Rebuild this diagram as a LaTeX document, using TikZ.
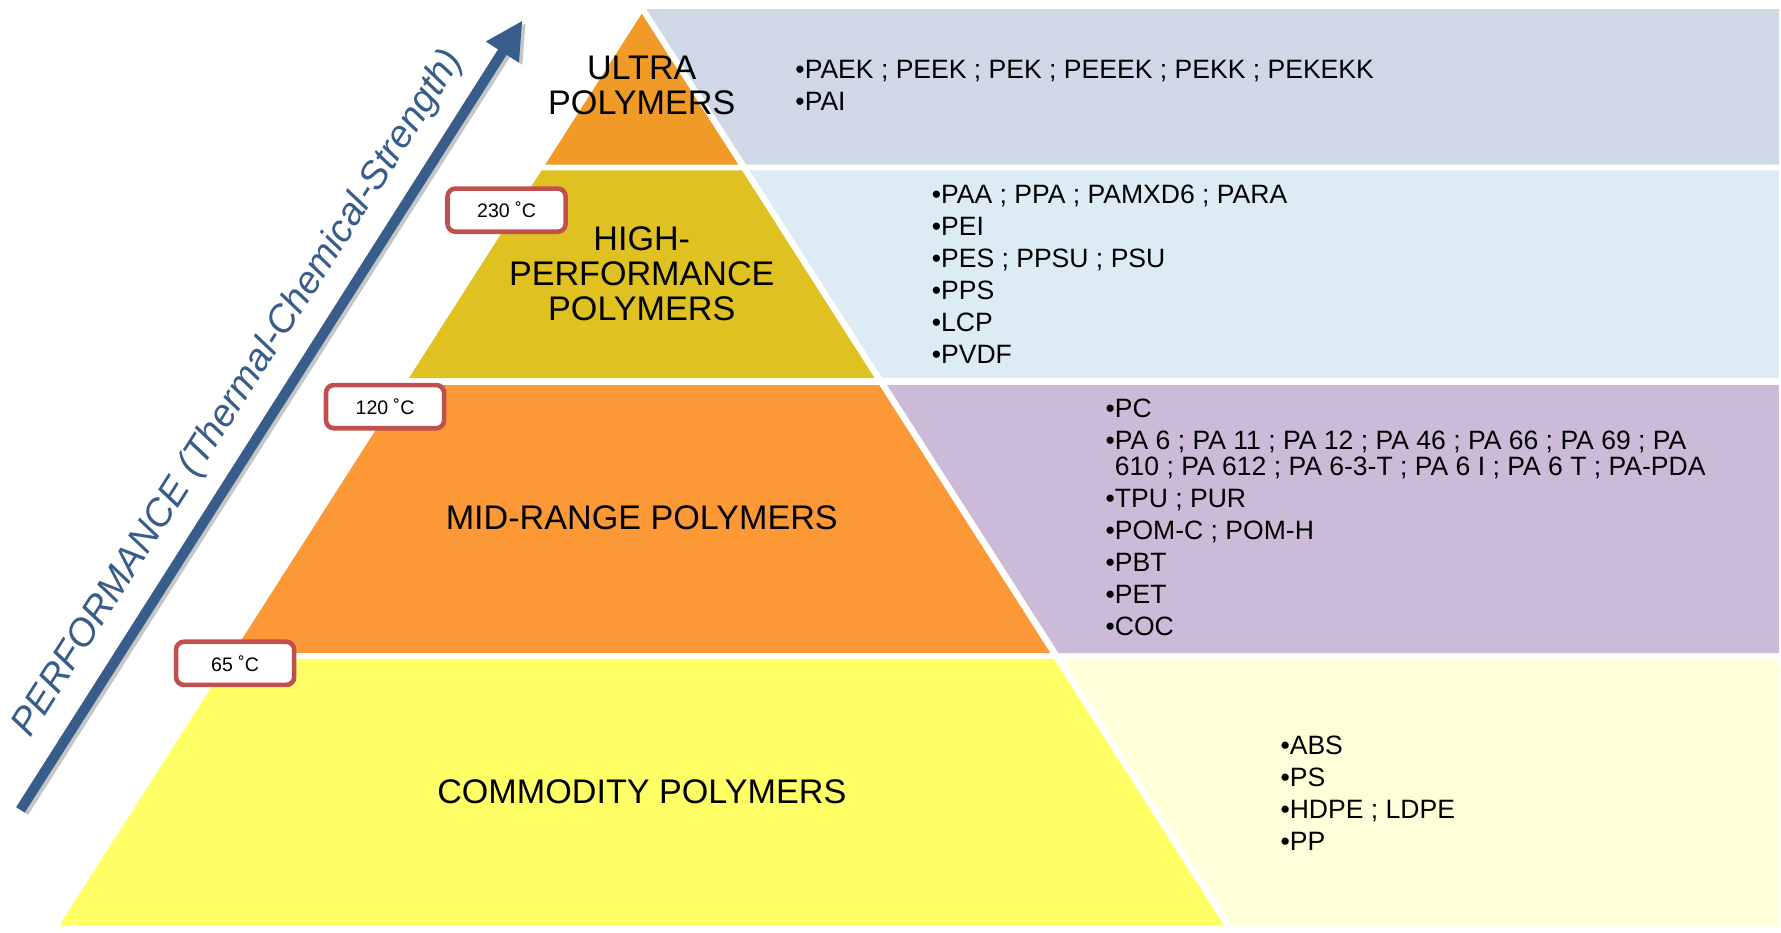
\documentclass[tikz,border=0pt]{standalone}
\usepackage{fontspec}
\setmainfont{Liberation Sans}
\usepackage{tikz}
\usetikzlibrary{arrows.meta}
\definecolor{ultraOrange}{RGB}{240,154,40}
\definecolor{highGold}{RGB}{224,193,34}
\definecolor{midOrange}{RGB}{253,152,54}
\definecolor{commYellow}{RGB}{255,255,102}
\definecolor{ultraPanel}{RGB}{208,216,232}
\definecolor{highPanel}{RGB}{221,235,244}
\definecolor{midPanel}{RGB}{203,187,216}
\definecolor{commPanel}{RGB}{255,255,218}
\definecolor{perfBlue}{RGB}{56,93,138}
\definecolor{tempRed}{RGB}{192,80,77}

\tikzset{
  tier/.style={font=\fontsize{17.1}{17.6}\selectfont, align=center, inner sep=0pt},
  grades/.style={font=\fontsize{13.3}{16.05}\selectfont, align=left, anchor=north west, inner sep=0pt},
  tempbox/.style={draw=tempRed, line width=2.3pt, fill=white, rounded corners=1.4mm,
    minimum width=20.8mm, minimum height=7.6mm, inner sep=0pt, font=\fontsize{9.8}{11}\selectfont},
  perfarrow/.style={line width=5.1pt, -{Triangle[length=6.6mm,width=6.4mm]}},
}

\begin{document}
\begin{tikzpicture}[x=0.2mm, y=-0.2mm]
\useasboundingbox (0,0) rectangle (1568,821);

% list panels on the right
\fill[ultraPanel] (569,8) -- (1566,8) -- (1566,145) -- (657,145) -- cycle;
\fill[highPanel] (660,150) -- (1566,150) -- (1566,333) -- (777,333) -- cycle;
\fill[midPanel] (781,339) -- (1566,339) -- (1566,575) -- (932,575) -- cycle;
\fill[commPanel] (935,580) -- (1566,580) -- (1566,815) -- (1085,815) -- cycle;

% pyramid tiers
\fill[ultraOrange] (565,12) -- (650,145) -- (480,145) -- cycle;
\fill[highGold] (476.8,150) -- (653.2,150) -- (770.1,333) -- (359.9,333) -- cycle;
\fill[midOrange] (356,339) -- (774,339) -- (924.8,575) -- (205.2,575) -- cycle;
\fill[commYellow] (202,580) -- (928,580) -- (1078,815) -- (52,815) -- cycle;

\node[tier] (ultraLbl) at (565,75) {ULTRA\\POLYMERS};
\node[tier] (highLbl) at (565,241) {HIGH-\\PERFORMANCE\\POLYMERS};
\node[tier] (midLbl) at (565,456) {MID-RANGE POLYMERS};
\node[tier] (commLbl) at (565,697) {COMMODITY POLYMERS};

\node[grades] (ultraList) at (700,52.6) {•PAEK ; PEEK ; PEK ; PEEEK ; PEKK ; PEKEKK\\•PAI};
\node[grades] (highList) at (820,162.6) {•PAA ; PPA ; PAMXD6 ; PARA\\•PEI\\•PES ; PPSU ; PSU\\•PPS\\•LCP\\•PVDF};
\node[grades] (midList) at (973,350.6) {•PC\\
  •PA 6 ; PA 11 ; PA 12 ; PA 46 ; PA 66 ; PA 69 ; PA\\[-3pt]
  \phantom{•}610 ; PA 612 ; PA 6-3-T ; PA 6 I ; PA 6 T ; PA-PDA\\
  •TPU ; PUR\\•POM-C ; POM-H\\•PBT\\•PET\\•COC};
\node[grades] (commList) at (1127,647.6) {•ABS\\•PS\\•HDPE ; LDPE\\•PP};

% performance axis
\coordinate (perfLow) at (18,713);
\coordinate (perfHigh) at (460,18);
\draw[perfarrow, gray!45] ([shift={(3,2)}]perfLow) -- ([shift={(3,2)}]perfHigh);
\draw[perfarrow, perfBlue] (perfLow) -- (perfHigh);
\node[rotate=57.5, text=perfBlue, font=\fontsize{19.2}{20}\selectfont\itshape] (perfLbl) at (210,347)
  {PERFORMANCE (Thermal-Chemical-Strength)};

% temperature thresholds
\node[tempbox] (t230) at (446,185) {230 ˚C};
\node[tempbox] (t120) at (339,358) {120 ˚C};
\node[tempbox] (t65) at (207,584) {65 ˚C};
\end{tikzpicture}
\end{document}
